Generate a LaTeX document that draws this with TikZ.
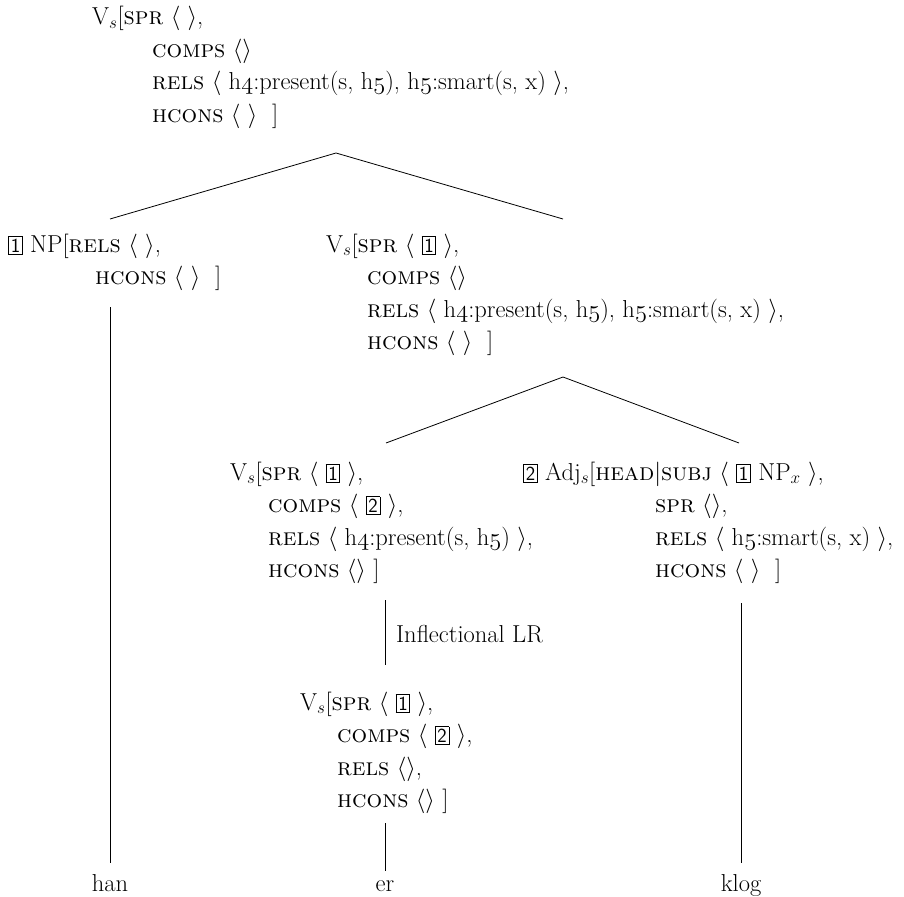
\RequirePackage{fix-cm}
\documentclass[tikz,border=0pt]{standalone}
\usepackage{fontspec}
\usepackage{array}

% boxed structure-sharing tags
\newcommand\tagnum[1]{{\setlength\fboxsep{1.8pt}\setlength\fboxrule{0.8pt}\fbox{\fontsize{20}{20}\selectfont\sffamily #1}}}
% old-style digits for handle names
\newcommand\osn[1]{{\usefont{OML}{cmm}{m}{it}#1}}
\newcommand\la{$\langle$}
\newcommand\ra{$\rangle$}
\newcommand\feat[1]{\textsc{#1}}

\begin{document}
\begin{tikzpicture}[x=1pt,y=-1pt,
  avm/.style={anchor=base west,inner sep=0pt,font=\fontsize{24.5}{32.5}\selectfont},
  word/.style={anchor=base,inner sep=0pt,font=\fontsize{24.5}{32.5}\selectfont},
  branch/.style={line width=0.8pt}]
\useasboundingbox (0,0) rectangle (904,896);
\renewcommand\arraystretch{1}

% feature structures
\node[avm] (top) at (92,25) {\begin{tabular}[t]{@{}l@{}}
  V$_s$[\feat{spr} \la\ \ra,\\
  \hspace*{60pt}\feat{comps} \la\ra\\
  \hspace*{60pt}\feat{rels} \la\ h\osn{4}:present(s, h\osn{5}), h\osn{5}:smart(s, x) \ra,\\
  \hspace*{60pt}\feat{hcons} \la\ \ra\ \ ]
\end{tabular}};

\node[avm] (np) at (8,252) {\begin{tabular}[t]{@{}l@{}}
  \tagnum{1} NP[\feat{rels} \la\ \ra,\\
  \hspace*{87pt}\feat{hcons} \la\ \ra\ \ ]
\end{tabular}};

\node[avm] (vp) at (326,252) {\begin{tabular}[t]{@{}l@{}}
  V$_s$[\feat{spr} \la\ \tagnum{1} \ra,\\
  \hspace*{41pt}\feat{comps} \la\ra\\
  \hspace*{41pt}\feat{rels} \la\ h\osn{4}:present(s, h\osn{5}), h\osn{5}:smart(s, x) \ra,\\
  \hspace*{41pt}\feat{hcons} \la\ \ra\ \ ]
\end{tabular}};

\node[avm] (vinfl) at (230,480) {\begin{tabular}[t]{@{}l@{}}
  V$_s$[\feat{spr} \la\ \tagnum{1} \ra,\\
  \hspace*{38pt}\feat{comps} \la\ \tagnum{2} \ra,\\
  \hspace*{38pt}\feat{rels} \la\ h\osn{4}:present(s, h\osn{5}) \ra,\\
  \hspace*{38pt}\feat{hcons} \la\ra\ ]
\end{tabular}};

\node[avm] (adj) at (523,480) {\begin{tabular}[t]{@{}l@{}}
  \tagnum{2} Adj$_s$[\feat{head}|\feat{subj} \la\ \tagnum{1} NP$_x$ \ra,\\
  \hspace*{132pt}\feat{spr} \la\ra,\\
  \hspace*{132pt}\feat{rels} \la\ h\osn{5}:smart(s, x) \ra,\\
  \hspace*{132pt}\feat{hcons} \la\ \ra\ \ ]
\end{tabular}};

\node[avm] (vlex) at (300,710) {\begin{tabular}[t]{@{}l@{}}
  V$_s$[\feat{spr} \la\ \tagnum{1} \ra,\\
  \hspace*{37pt}\feat{comps} \la\ \tagnum{2} \ra,\\
  \hspace*{37pt}\feat{rels} \la\ra,\\
  \hspace*{37pt}\feat{hcons} \la\ra\ ]
\end{tabular}};

\node[avm] (rule) at (396,642) {Inflectional LR};

% words
\node[word] (han) at (110,891) {han};
\node[word] (er) at (385,891) {er};
\node[word] (klog) at (741,891) {klog};

% branching points
\coordinate (topJ) at (336,153);
\coordinate (topL) at (110,219);
\coordinate (topR) at (563,219);
\coordinate (vpJ) at (563,377);
\coordinate (vpL) at (386,443);
\coordinate (vpR) at (739,443);
\coordinate (npB) at (110,307);
\coordinate (hanT) at (110,863);
\coordinate (vinflB) at (385,600);
\coordinate (vlexT) at (385,665);
\coordinate (vlexB) at (385,823);
\coordinate (erT) at (385,871);
\coordinate (adjB) at (741,603);
\coordinate (klogT) at (741,863);

\draw[branch] (topL) -- (topJ) -- (topR);
\draw[branch] (vpL) -- (vpJ) -- (vpR);
\draw[branch] (npB) -- (hanT);
\draw[branch] (vinflB) -- (vlexT);
\draw[branch] (vlexB) -- (erT);
\draw[branch] (adjB) -- (klogT);
\end{tikzpicture}
\end{document}
